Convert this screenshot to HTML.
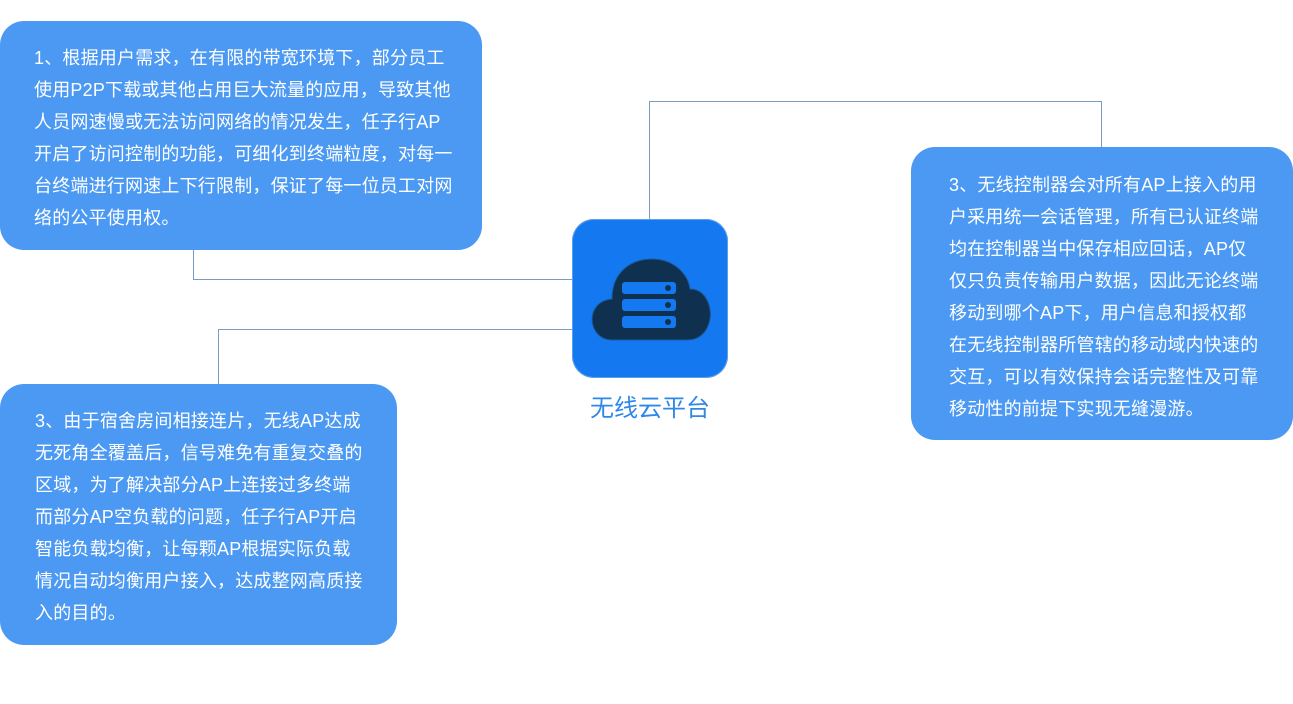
<!DOCTYPE html>
<html><head><meta charset="utf-8"><style>
body{margin:0;width:1293px;height:704px;background:#fff;position:relative;overflow:hidden;font-family:"Liberation Sans","Noto Sans CJK SC",sans-serif}
.b{position:absolute;background:#4b99f2;color:#fff;border-radius:24px;font-size:18px;line-height:32px;box-sizing:border-box;white-space:nowrap;letter-spacing:0.2px}
.l{position:absolute;background:#7a9cc4}
</style></head><body>
<div class="l" style="left:649px;top:101px;width:1px;height:118px"></div>
<div class="l" style="left:649px;top:101px;width:453px;height:1px"></div>
<div class="l" style="left:1101px;top:101px;width:1px;height:46px"></div>
<div class="l" style="left:193px;top:250px;width:1px;height:29px"></div>
<div class="l" style="left:193px;top:279px;width:379px;height:1px"></div>
<div class="l" style="left:218px;top:329px;width:1px;height:55px"></div>
<div class="l" style="left:218px;top:329px;width:354px;height:1px"></div>

<div class="b" style="left:0;top:21px;width:482px;height:229px;padding:21px 0 0 34px">1、根据用户需求，在有限的带宽环境下，部分员工<br>使用P2P下载或其他占用巨大流量的应用，导致其他<br>人员网速慢或无法访问网络的情况发生，任子行AP<br>开启了访问控制的功能，可细化到终端粒度，对每一<br>台终端进行网速上下行限制，保证了每一位员工对网<br>络的公平使用权。</div>

<div class="b" style="left:0;top:384px;width:397px;height:261px;padding:21px 0 0 35px">3、由于宿舍房间相接连片，无线AP达成<br>无死角全覆盖后，信号难免有重复交叠的<br>区域，为了解决部分AP上连接过多终端<br>而部分AP空负载的问题，任子行AP开启<br>智能负载均衡，让每颗AP根据实际负载<br>情况自动均衡用户接入，达成整网高质接<br>入的目的。</div>

<div class="b" style="left:911px;top:147px;width:382px;height:293px;padding:22px 0 0 38px">3、无线控制器会对所有AP上接入的用<br>户采用统一会话管理，所有已认证终端<br>均在控制器当中保存相应回话，AP仅<br>仅只负责传输用户数据，因此无论终端<br>移动到哪个AP下，用户信息和授权都<br>在无线控制器所管辖的移动域内快速的<br>交互，可以有效保持会话完整性及可靠<br>移动性的前提下实现无缝漫游。</div>

<div style="position:absolute;left:572px;top:219px;width:156px;height:159px;background:#1479f0;border-radius:22px;box-shadow:0 0 0 1px #5d9fe8 inset">
<svg width="156" height="159" viewBox="0 0 156 159">
<path fill="#10304f" stroke="#1a5a9a" d="M40 121 C15 121 12 82 40 80 C40 52 60 40 80 40 C102 40 116 55 118 70 C135 70 140 90 138 100 C136 112 128 121 116 121 Z"/>
<g fill="#1479f0">
<rect x="50" y="63" width="54" height="12" rx="3"/>
<rect x="50" y="80" width="54" height="12" rx="3"/>
<rect x="50" y="97" width="54" height="12" rx="3"/>
</g>
<g fill="#10304f"><circle cx="96" cy="69" r="3"/><circle cx="96" cy="86" r="3"/><circle cx="96" cy="103" r="3"/></g>
</svg></div>
<div style="position:absolute;left:550px;top:394px;width:200px;text-align:center;font-size:24px;line-height:30px;color:#2e88e8">无线云平台</div>
</body></html>
